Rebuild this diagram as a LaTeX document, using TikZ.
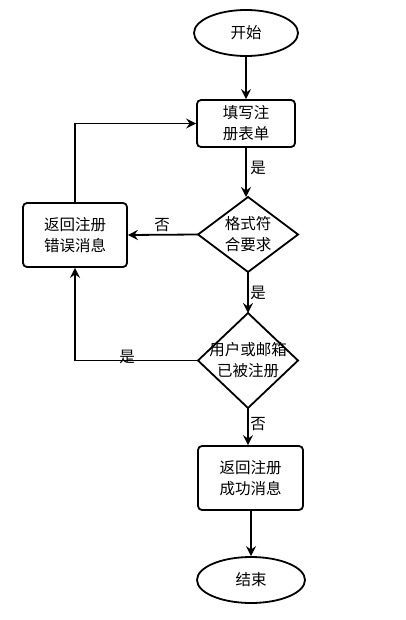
\documentclass[tikz,border=0pt]{standalone}
\usepackage{fontspec}
\setmainfont{Noto Sans CJK SC}
\usetikzlibrary{shapes.geometric,arrows.meta}
\begin{document}
\begin{tikzpicture}[x=1pt,y=-1pt,
  every node/.style={font=\fontsize{15.5}{21}\selectfont, align=center, inner sep=0pt},
  term/.style={draw, line width=1.8pt, ellipse, minimum width=#1, minimum height=46pt},
  proc/.style={draw, line width=1.8pt, rounded corners=4pt, minimum width=104pt, minimum height=64pt},
  decshape/.style={draw, line width=1.8pt, diamond, inner sep=0pt, outer sep=0pt},
  conn/.style={line width=1.8pt, -{Stealth[length=10pt,width=10pt,inset=3.5pt]}},
  lbl/.style={font=\fontsize{15.5}{18}\selectfont}]
\useasboundingbox (0,0) rectangle (405,620);
\node[term=104pt] (start) at (246,33) {开始};
\node[proc, minimum width=98pt, minimum height=47pt] (fill) at (246,123.5) {填写注\\册表单};
\node[decshape, minimum width=100pt, minimum height=75pt] (chk) at (248,234.5) {};
\node (chkt) at (chk.center) {格式符\\合要求};
\node[proc] (err) at (75,235) {返回注册\\错误消息};
\node[decshape, minimum width=100pt, minimum height=95pt] (reg) at (248,360.5) {};
\node (regt) at (reg.center) {用户或邮箱\\已被注册};
\node[proc, minimum width=105pt] (ok) at (250.5,478) {返回注册\\成功消息};
\node[term=108pt] (end) at (251,580) {结束};
\draw[conn] (start.south) -- (start.south |- fill.north);
\draw[conn] (fill.south -| 246,0) -- (246,197);
\draw[conn] (chk.west) -- (err.east);
\draw[conn] (err.north) |- (fill.west);
\draw[conn] (chk.south) -- (reg.north);
\draw[conn] (reg.west) -| (err.south);
\draw[conn] (reg.south) -- (reg.south |- ok.north);
\draw[conn] (ok.south -| end.north) -- (end.north);
\node[lbl] (l1) at (258,168) {是};
\node[lbl] (l2) at (162,225.5) {否};
\node[lbl] (l3) at (258,293) {是};
\node[lbl] (l4) at (127,357) {是};
\node[lbl] (l5) at (258,424) {否};
\end{tikzpicture}
\end{document}
